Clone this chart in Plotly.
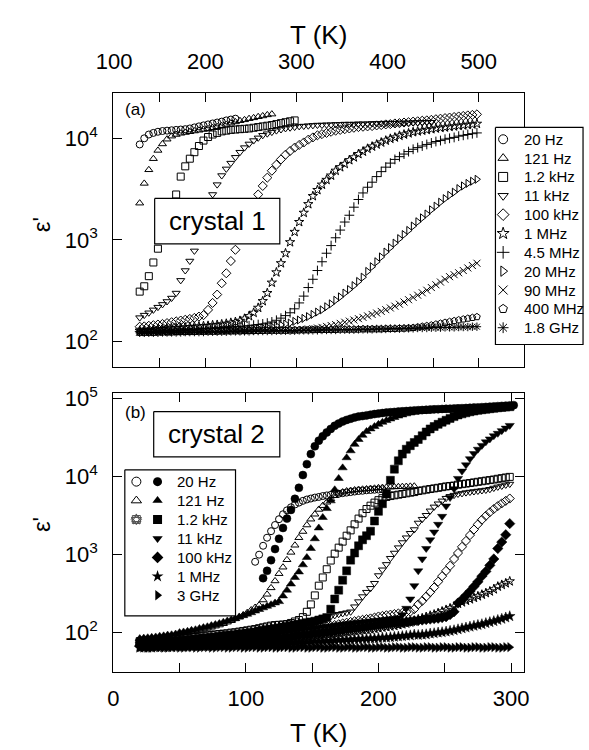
import numpy as np
import plotly.graph_objects as go

# ================= crystal 1 (top panel): T grid 128 K, step 5 K =================
c1_T_start = 128
c1_T_step = 5
c1_labels = ["20 Hz", "121 Hz", "1.2 kHz", "11 kHz", "100 kHz", "1 MHz",
             "4.5 MHz", "20 MHz", "90 MHz", "400 MHz", "1.8 GHz"]
c1_symbols = ["circle-open", "triangle-up-open", "square-open", "triangle-down-open",
              "diamond-open", "star-open", "cross-thin-open", "triangle-right-open",
              "x-thin-open", "pentagon-open", "asterisk-open"]
c1_20Hz = [8700, 10000, 10900, 11300, 11600, 11800, 11900, 12000, 12100, 12200,
           12300, 12500, 12800, 13100, 13400, 13700, 14000, 14300, 14600, 15000,
           15300, 15600]
c1_121Hz = [2300, 3600, 4900, 6300, 7600, 8800, 9800, 10500, 10900, 11200,
            11400, 11600, 11800, 12000, 12200, 12400, 12700, 13000, 13300, 13700,
            14100, 14500, 14900, 15200, 15600, 15900, 16300, 16600, 17000, 17300]
c1_1k2Hz = [310, 350, 440, 600, 820, 1100, 1550, 2100, 2800, 4200,
            5300, 6300, 7300, 8400, 9500, 10300, 10900, 11300, 11700, 11900,
            12100, 12200, 12300, 12400, 12500, 12700, 12900, 13100, 13300, 13500,
            13800, 14100, 14400, 14700, 15000]
c1_11kHz = [172, 182, 192, 205, 218, 232, 248, 268, 300, 400,
            500, 620, 780, 1050, 1500, 2100, 2800, 3500, 4300, 5000,
            5700, 6500, 7300, 8100, 8800, 9500, 10100, 10700, 11100, 11500,
            11900, 12200, 12500, 12700, 12900, 13100, 13200, 13300, 13400, 13500,
            13500, 13600, 13600, 13700, 13700, 13800, 13800, 13800, 13900, 13900,
            13900, 14000, 14000, 14000, 14100, 14100, 14100, 14200, 14200, 14200,
            14300, 14300, 14300, 14400, 14400]
c1_100kHz = [140, 141, 143, 145, 147, 149, 152, 155, 158, 161,
             164, 167, 171, 176, 182, 205, 240, 290, 375, 470,
             620, 800, 1050, 1400, 1800, 2300, 2800, 3400, 4100, 4800,
             5500, 6200, 6900, 7500, 8100, 8600, 9100, 9700, 10200, 10700,
             11000, 11300, 11600, 11900, 12100, 12300, 12500, 12700, 12900, 13000,
             13100, 13200, 13400, 13500, 13700, 13800, 14000, 14100, 14300, 14400,
             14600, 14700, 14900, 15000, 15200, 15400, 15600, 15800, 16000, 16200,
             16400, 16600, 16800, 17000, 17200]
c1_1MHz = [128, 129, 130, 131, 132, 133, 134, 135, 136, 137,
           138, 139, 140, 141, 142, 143, 145, 146, 148, 150,
           153, 156, 160, 168, 178, 192, 215, 250, 300, 380,
           480, 590, 740, 950, 1200, 1500, 1850, 2250, 2700, 3100,
           3500, 3900, 4300, 4800, 5200, 5600, 6100, 6500, 7000, 7400,
           7900, 8300, 8700, 9100, 9500, 9900, 10200, 10600, 10900, 11200,
           11500, 11700, 11900, 12100, 12300, 12500, 12700, 12800, 13000, 13100,
           13300, 13400, 13600, 13700, 13900]
c1_4p5MHz = [126, 126, 127, 127, 128, 128, 128, 129, 129, 130,
             130, 131, 131, 132, 133, 134, 135, 136, 137, 138,
             139, 140, 141, 142, 143, 145, 147, 149, 152, 156,
             162, 170, 180, 192, 210, 240, 280, 340, 410, 500,
             610, 740, 880, 1050, 1250, 1500, 1750, 2100, 2500, 2900,
             3300, 3700, 4200, 4700, 5200, 5700, 6200, 6600, 7000, 7400,
             7800, 8100, 8400, 8700, 9000, 9300, 9500, 9800, 10000, 10200,
             10500, 10700, 10900, 11100, 11300]
c1_20MHz = [125, 125, 125, 125, 126, 126, 126, 126, 127, 127,
            127, 127, 128, 128, 128, 129, 129, 129, 130, 130,
            130, 131, 131, 132, 133, 134, 135, 137, 139, 141,
            143, 146, 149, 152, 158, 163, 169, 176, 185, 195,
            205, 220, 235, 255, 275, 300, 325, 355, 390, 430,
            490, 545, 610, 680, 760, 840, 930, 1030, 1130, 1240,
            1370, 1510, 1650, 1800, 1980, 2150, 2350, 2550, 2750, 2950,
            3200, 3400, 3600, 3780, 3950]
c1_90MHz = [124, 124, 124, 124, 124, 125, 125, 125, 125, 125,
            126, 126, 126, 126, 126, 127, 127, 127, 127, 127,
            128, 128, 128, 128, 128, 128, 129, 129, 129, 129,
            129, 129, 129, 129, 129, 130, 131, 133, 134, 136,
            138, 141, 144, 147, 151, 155, 159, 163, 168, 173,
            179, 185, 191, 198, 206, 214, 223, 233, 245, 258,
            272, 286, 302, 320, 340, 362, 385, 410, 435, 455,
            475, 500, 530, 560, 590]
c1_400MHz = [123, 123, 123, 123, 124, 124, 124, 124, 125, 125,
             125, 125, 125, 126, 126, 126, 126, 126, 127, 127,
             127, 127, 127, 128, 128, 128, 128, 128, 129, 129,
             129, 129, 129, 130, 130, 130, 130, 130, 131, 131,
             131, 131, 131, 131, 132, 132, 132, 132, 132, 133,
             133, 133, 133, 133, 134, 134, 134, 135, 135, 136,
             137, 139, 141, 143, 145, 148, 151, 154, 157, 160,
             163, 166, 169, 172, 175]
c1_1p8GHz = [122, 122, 122, 122, 122, 123, 123, 123, 123, 123,
             124, 124, 124, 124, 124, 125, 125, 125, 125, 125,
             126, 126, 126, 126, 126, 127, 127, 127, 127, 127,
             128, 128, 128, 128, 128, 129, 129, 129, 129, 129,
             130, 130, 130, 130, 131, 131, 131, 131, 132, 132,
             132, 132, 133, 133, 133, 134, 134, 134, 135, 135,
             135, 136, 136, 136, 137, 137, 137, 138, 138, 138,
             139, 139, 139, 140, 140]
c1_series = [c1_20Hz, c1_121Hz, c1_1k2Hz, c1_11kHz, c1_100kHz, c1_1MHz, c1_4p5MHz,
             c1_20MHz, c1_90MHz, c1_400MHz, c1_1p8GHz]

# ================= crystal 2 (bottom panel): T step 3 K =================
c2_T_step = 3
c2_T_start = 20
c2_20Hz_open_start = 107
c2_20Hz_open = [810, 1000, 1300, 1650, 2000, 2400, 2850, 3300, 3700, 4050,
                4400, 4650, 4900, 5100, 5250, 5400, 5500, 5650, 5750, 5850,
                5950, 6050, 6150, 6250, 6350, 6450, 6550, 6600, 6700, 6750,
                6800, 6850, 6900]
c2_20Hz_fill_start = 113
c2_20Hz_fill = [500, 620, 850, 1180, 1600, 2200, 2900, 3750, 5200, 7200,
                10500, 14500, 19500, 24500, 29000, 33000, 37000, 41000, 45000, 48000,
                51000, 53500, 55500, 57500, 59000, 60000, 61200, 62400, 63600, 64500,
                65500, 66400, 67200, 67800, 68400, 69000, 69600, 70200, 70800, 71300,
                71700, 72200, 72600, 73100, 73500, 74000, 74300, 74600, 74900, 75300,
                75700, 76200, 76600, 77100, 77500, 78000, 78600, 79200, 79800, 80400,
                81000, 81600, 82200, 82800]
c2_121Hz_open = [82, 83, 84, 85, 86, 87, 88, 90, 91, 92,
                 96, 98, 100, 102, 105, 107, 110, 113, 117, 121,
                 125, 130, 136, 142, 150, 158, 168, 180, 195, 210,
                 225, 262, 310, 375, 460, 570, 690, 860, 1070, 1320,
                 1650, 1980, 2400, 2850, 3300, 3800, 4250, 4700, 5200, 5700,
                 6100, 6350, 6550, 6650, 6750, 6850, 6900, 6950, 7050, 7100,
                 7200, 7250, 7300, 7350, 7400, 7420, 7450, 7480, 7520, 7550]
c2_121Hz_fill = [84, 85, 86, 87, 88, 90, 91, 93, 94, 96,
                 100, 102, 104, 107, 109, 113, 116, 119, 123, 127,
                 131, 136, 141, 146, 152, 159, 165, 172, 180, 189,
                 198, 208, 218, 228, 240, 250, 295, 350, 420, 510,
                 600, 740, 920, 1200, 1600, 2200, 3000, 3900, 4900, 6800,
                 9500, 13000, 17500, 21500, 26000, 30000, 34000, 38000, 41000, 44000,
                 47000, 50000, 52500, 55000, 57500, 60000, 62000, 64000, 65500, 67000,
                 68000, 68700, 69300, 69800, 70300, 70800, 71200, 71500, 71800, 72100,
                 72400, 72700, 73000, 73300, 73600, 73900, 74200, 74500, 74800, 75100,
                 75400, 75700, 76000, 76300]
c2_1k2Hz_open = [78, 79, 79, 80, 80, 81, 81, 82, 83, 83,
                 84, 85, 86, 87, 88, 89, 91, 92, 93, 95,
                 96, 97, 98, 100, 101, 103, 105, 107, 109, 111,
                 114, 117, 120, 123, 125, 126, 127, 129, 133, 139,
                 145, 158, 185, 230, 300, 400, 510, 650, 840, 1030,
                 1230, 1470, 1750, 2050, 2450, 2900, 3400, 3850, 4250, 4650,
                 5000, 5300, 5500, 5650, 5770, 5880, 6000, 6120, 6240, 6350,
                 6550, 6680, 6820, 6950, 7080, 7200, 7350, 7500, 7600, 7700,
                 7900, 8030, 8160, 8300, 8450, 8600, 8750, 8900, 9050, 9200,
                 9400, 9580, 9770, 9950]
c2_1k2Hz_fill = [74, 74, 75, 75, 76, 76, 77, 77, 78, 78,
                 80, 80, 81, 82, 83, 84, 85, 86, 87, 88,
                 90, 91, 92, 93, 94, 96, 97, 99, 100, 102,
                 105, 107, 109, 111, 113, 115, 118, 120, 123, 126,
                 128, 131, 134, 137, 140, 145, 150, 156, 200, 270,
                 350, 470, 620, 850, 1050, 1300, 1550, 1750, 2000, 2700,
                 3600, 4500, 6000, 9000, 12500, 16000, 19500, 22500, 25000, 27500,
                 30000, 33500, 37500, 41000, 44000, 47000, 50000, 53000, 56000, 59000,
                 62000, 64000, 66000, 68000, 69500, 71000, 72200, 73300, 74400, 75400,
                 76500, 77400, 78200, 79000]
c2_11kHz_open = [72, 73, 73, 74, 74, 75, 75, 76, 76, 77,
                 78, 78, 79, 79, 80, 80, 81, 81, 82, 83,
                 86, 87, 88, 89, 91, 92, 94, 96, 98, 100,
                 101, 103, 105, 107, 110, 113, 116, 119, 122, 125,
                 129, 133, 136, 140, 144, 148, 152, 156, 161, 166,
                 172, 176, 180, 185, 215, 250, 290, 330, 370, 430,
                 540, 640, 750, 900, 1050, 1230, 1430, 1650, 1880, 2100,
                 2550, 2850, 3200, 3650, 4100, 4500, 4900, 5300, 5600, 5800,
                 6000, 6100, 6250, 6350, 6450, 6550, 6650, 6750, 6900, 7150,
                 7400, 7600, 7850, 8050]
c2_11kHz_fill = [70, 71, 71, 72, 72, 72, 73, 73, 74, 74,
                 75, 75, 76, 76, 77, 77, 78, 78, 79, 80,
                 81, 82, 82, 83, 84, 85, 86, 88, 89, 90,
                 92, 93, 94, 95, 97, 98, 100, 102, 103, 105,
                 108, 110, 112, 113, 115, 117, 119, 121, 122, 124,
                 126, 128, 130, 132, 134, 136, 137, 139, 141, 143,
                 144, 146, 148, 150, 152, 155, 170, 205, 270, 400,
                 620, 880, 1200, 1550, 1950, 2450, 3100, 4200, 5400, 7000,
                 9500, 11800, 14200, 17000, 19800, 22500, 25200, 28000, 30500, 33500,
                 36000, 39000, 42000, 45500]
c2_100kHz_open = [69, 69, 70, 70, 71, 71, 72, 72, 73, 73,
                  74, 74, 75, 76, 76, 77, 78, 78, 79, 80,
                  80, 81, 82, 83, 84, 85, 86, 87, 88, 90,
                  91, 92, 93, 94, 96, 97, 99, 100, 102, 104,
                  107, 108, 110, 112, 114, 116, 118, 120, 122, 125,
                  128, 131, 134, 137, 140, 143, 146, 149, 152, 156,
                  161, 164, 167, 170, 173, 176, 179, 183, 186, 200,
                  230, 255, 290, 330, 380, 450, 530, 620, 720, 880,
                  1050, 1260, 1500, 1780, 2100, 2450, 2800, 3150, 3500, 3850,
                  4200, 4550, 4900, 5250]
c2_100kHz_fill = [67, 67, 67, 68, 68, 68, 69, 69, 69, 70,
                  70, 71, 71, 72, 72, 73, 73, 74, 74, 75,
                  75, 76, 76, 77, 77, 78, 78, 79, 80, 80,
                  81, 82, 83, 83, 84, 85, 86, 87, 88, 89,
                  92, 93, 94, 95, 97, 98, 99, 101, 102, 104,
                  106, 108, 110, 112, 114, 115, 117, 119, 121, 123,
                  125, 127, 129, 131, 133, 134, 136, 138, 140, 142,
                  143, 145, 147, 149, 151, 153, 156, 160, 170, 185,
                  240, 265, 300, 340, 390, 450, 530, 610, 730, 880,
                  1200, 1450, 1800, 2500]
c2_1MHz_open = [66, 66, 66, 67, 67, 67, 68, 68, 68, 69,
                69, 69, 69, 70, 70, 70, 71, 71, 71, 72,
                72, 72, 73, 73, 74, 74, 75, 75, 76, 76,
                77, 77, 78, 78, 79, 80, 81, 82, 83, 85,
                88, 89, 90, 91, 92, 93, 94, 95, 96, 97,
                99, 100, 102, 103, 105, 106, 108, 109, 110, 112,
                114, 116, 118, 120, 122, 125, 128, 131, 135, 139,
                148, 153, 159, 165, 171, 178, 187, 196, 205, 215,
                235, 245, 257, 268, 280, 293, 307, 322, 338, 360,
                390, 410, 430, 455]
c2_1MHz_fill = [64, 64, 64, 64, 65, 65, 65, 65, 65, 66,
                66, 66, 66, 66, 67, 67, 67, 67, 67, 68,
                68, 68, 68, 69, 69, 69, 70, 70, 70, 71,
                71, 71, 72, 72, 72, 73, 73, 73, 74, 74,
                75, 75, 76, 76, 77, 77, 77, 78, 78, 79,
                80, 80, 81, 81, 82, 82, 83, 83, 84, 84,
                85, 86, 86, 87, 88, 89, 90, 91, 92, 94,
                93, 94, 95, 97, 98, 100, 101, 103, 105, 107,
                110, 113, 116, 119, 122, 125, 128, 132, 136, 140,
                145, 150, 156, 162]
c2_3GHz_fill = [65, 65, 64, 64, 65, 65, 64, 64, 65, 65,
                64, 64, 65, 65, 64, 64, 65, 65, 64, 64,
                65, 65, 64, 64, 65, 65, 64, 64, 65, 65,
                64, 64, 65, 65, 64, 64, 65, 65, 64, 64,
                65, 65, 64, 64, 65, 65, 64, 64, 65, 65,
                64, 64, 65, 65, 64, 64, 65, 65, 64, 64,
                65, 65, 64, 64, 65, 65, 64, 64, 65, 65,
                64, 64, 65, 65, 64, 64, 65, 65, 64, 64,
                65, 65, 64, 64, 65, 65, 64, 64, 65, 65,
                64, 64, 65, 65]
c2_labels = ["20 Hz", "121 Hz", "1.2 kHz", "11 kHz", "100 kHz", "1 MHz", "3 GHz"]
c2_fill_symbols = ["circle", "triangle-up", "square", "triangle-down", "diamond", "star",
                   "triangle-right"]

c1_yticks = [100, 1000, 10000]
c2_yticks = [100, 1000, 10000, 100000]
c1_xticks = [100, 200, 300, 400, 500]
c1_xminor = [150, 250, 350, 450]
c2_xticks = [0, 100, 200, 300]
c2_xminor = [50, 150, 250]


def sup_label(v):
    return "10<sup>%d</sup>" % int(round(np.log10(v)))


FONT = "Liberation Sans, Arial, sans-serif"
W, H = 589, 750

fig = go.Figure()

for vals, sym in zip(c1_series, c1_symbols):
    T = c1_T_start + c1_T_step * np.arange(len(vals))
    fig.add_trace(go.Scatter(x=T, y=vals, mode="markers", xaxis="x", yaxis="y",
                             marker=dict(symbol=sym, size=7, color="black",
                                         line=dict(color="black", width=1)),
                             showlegend=False))


def grid(start, n):
    return start + c2_T_step * np.arange(n)


c2_open = [(grid(c2_20Hz_open_start, len(c2_20Hz_open)), c2_20Hz_open, "circle-open"),
           (grid(c2_T_start, len(c2_121Hz_open)), c2_121Hz_open, "triangle-up-open"),
           (grid(c2_T_start, len(c2_1k2Hz_open)), c2_1k2Hz_open, "square-open"),
           (grid(c2_T_start, len(c2_11kHz_open)), c2_11kHz_open, "triangle-down-open"),
           (grid(c2_T_start, len(c2_100kHz_open)), c2_100kHz_open, "diamond-open"),
           (grid(c2_T_start, len(c2_1MHz_open)), c2_1MHz_open, "star-open")]
c2_fill = [(grid(c2_20Hz_fill_start, len(c2_20Hz_fill)), c2_20Hz_fill, "circle"),
           (grid(c2_T_start, len(c2_121Hz_fill)), c2_121Hz_fill, "triangle-up"),
           (grid(c2_T_start, len(c2_1k2Hz_fill)), c2_1k2Hz_fill, "square"),
           (grid(c2_T_start, len(c2_11kHz_fill)), c2_11kHz_fill, "triangle-down"),
           (grid(c2_T_start, len(c2_100kHz_fill)), c2_100kHz_fill, "diamond"),
           (grid(c2_T_start, len(c2_1MHz_fill)), c2_1MHz_fill, "star"),
           (grid(c2_T_start, len(c2_3GHz_fill)), c2_3GHz_fill, "triangle-right")]
for T, vals, sym in c2_fill:
    fig.add_trace(go.Scatter(x=T, y=vals, mode="markers", xaxis="x2", yaxis="y2",
                             marker=dict(symbol=sym, size=8, color="black",
                                         line=dict(color="black", width=0.5)),
                             showlegend=False))
for T, vals, sym in c2_open:
    fig.add_trace(go.Scatter(x=T, y=vals, mode="markers", xaxis="x2", yaxis="y2",
                             marker=dict(symbol=sym, size=7, color="black",
                                         line=dict(color="black", width=1)),
                             showlegend=False))


def box(x0, x1, y0, y1):
    fig.add_trace(go.Scatter(x=[x0, x1, x1, x0, x0], y=[y0, y0, y1, y1, y0], mode="lines",
                             fill="toself", fillcolor="white",
                             line=dict(color="black", width=1.2),
                             xaxis="x3", yaxis="y3", showlegend=False, hoverinfo="skip"))


box(143, 273, 191, 237)   # crystal 1
box(142, 273, 407, 453)   # crystal 2
box(497, 588, 119, 339)   # legend 1
box(112, 227, 466, 614)   # legend 2

TXT = dict(family=FONT, color="black")
ann = []
for i, (lab, sym) in enumerate(zip(c1_labels, c1_symbols)):
    yy = 131 + 19.1 * i
    fig.add_trace(go.Scatter(x=[505], y=[yy], mode="markers", xaxis="x3", yaxis="y3",
                             marker=dict(symbol=sym, size=9, color="black",
                                         line=dict(color="black", width=1)),
                             showlegend=False, hoverinfo="skip"))
    ann.append(dict(x=525, y=yy, text=lab, xanchor="left", yanchor="middle",
                    font=dict(size=15, **TXT)))
for i, (lab, sym) in enumerate(zip(c2_labels, c2_fill_symbols)):
    yy = 478 + 19.2 * i
    fig.add_trace(go.Scatter(x=[146], y=[yy], mode="markers", xaxis="x3", yaxis="y3",
                             marker=dict(symbol=sym, size=9, color="black"),
                             showlegend=False, hoverinfo="skip"))
    ann.append(dict(x=164, y=yy, text=lab, xanchor="left", yanchor="middle",
                    font=dict(size=15, **TXT)))
for i, sym in enumerate(["circle-open", "triangle-up-open"]):
    yy = 478 + 19.2 * i
    fig.add_trace(go.Scatter(x=[124], y=[yy], mode="markers", xaxis="x3", yaxis="y3",
                             marker=dict(symbol=sym, size=9, color="black",
                                         line=dict(color="black", width=1)),
                             showlegend=False, hoverinfo="skip"))
for sym in ["square-open", "star-open", "diamond-open", "triangle-down-open", "triangle-up-open"]:
    fig.add_trace(go.Scatter(x=[124], y=[478 + 19.2 * 2], mode="markers", xaxis="x3", yaxis="y3",
                             marker=dict(symbol=sym, size=8, color="#555",
                                         line=dict(color="#555", width=1)),
                             showlegend=False, hoverinfo="skip"))

ann += [
    dict(x=208, y=214, text="crystal 1", font=dict(size=26, **TXT)),
    dict(x=207, y=430, text="crystal 2", font=dict(size=26, **TXT)),
    dict(x=123, y=101, text="(a)", font=dict(size=17, **TXT)),
    dict(x=123, y=408, text="(b)", font=dict(size=17, **TXT)),
    dict(x=313, y=25, text="T (K)", font=dict(size=26, **TXT)),
    dict(x=313, y=733, text="T (K)", font=dict(size=26, **TXT)),
    dict(x=25, y=218, text="ε'", textangle=-90, font=dict(size=24, **TXT)),
    dict(x=25, y=522, text="ε'", textangle=-90, font=dict(size=24, **TXT)),
]
for a in ann:
    a.setdefault("xref", "x3")
    a.setdefault("yref", "y3")
    a.setdefault("showarrow", False)

xdom = [100 / W, 527 / W]
axis_common = dict(showline=True, linecolor="black", linewidth=1.3, ticks="inside",
                   ticklen=9, tickwidth=1.2, tickcolor="black", mirror="ticks",
                   showgrid=False, zeroline=False,
                   tickfont=dict(size=22, family=FONT, color="black"))
minor_common = dict(ticks="inside", ticklen=9, tickwidth=1.2, tickcolor="black",
                    showgrid=False)

fig.update_layout(
    width=W, height=H, margin=dict(l=0, r=0, t=0, b=0),
    paper_bgcolor="white", plot_bgcolor="rgba(0,0,0,0)",
    font=dict(family=FONT, color="black"),
    showlegend=False, annotations=ann,
    xaxis=dict(domain=xdom, anchor="y", side="top", range=[99, 550],
               tickvals=c1_xticks, ticktext=[str(v) for v in c1_xticks],
               minor=dict(tickvals=c1_xminor, **minor_common),
               ticklabelstandoff=14, **axis_common),
    yaxis=dict(domain=[1 - 362 / H, 1 - 84 / H], anchor="x", type="log",
               range=[1.748, 4.447], tickvals=c1_yticks,
               ticktext=[sup_label(v) for v in c1_yticks], ticklabelstandoff=10,
               **axis_common),
    xaxis2=dict(domain=xdom, anchor="y2", range=[0, 310], tickvals=c2_xticks,
                ticktext=[str(v) for v in c2_xticks],
                minor=dict(tickvals=c2_xminor, **minor_common),
                ticklabelstandoff=6, **axis_common),
    yaxis2=dict(domain=[1 - 671 / H, 1 - 388 / H], anchor="x2", type="log",
                range=[1.494, 5.076], tickvals=c2_yticks,
                ticktext=[sup_label(v) for v in c2_yticks], ticklabelstandoff=10,
                **axis_common),
    xaxis3=dict(domain=[0, 1], anchor="y3", range=[0, W], visible=False, fixedrange=True),
    yaxis3=dict(domain=[0, 1], anchor="x3", range=[H, 0], visible=False, fixedrange=True),
)

fig.write_html("out.html")
